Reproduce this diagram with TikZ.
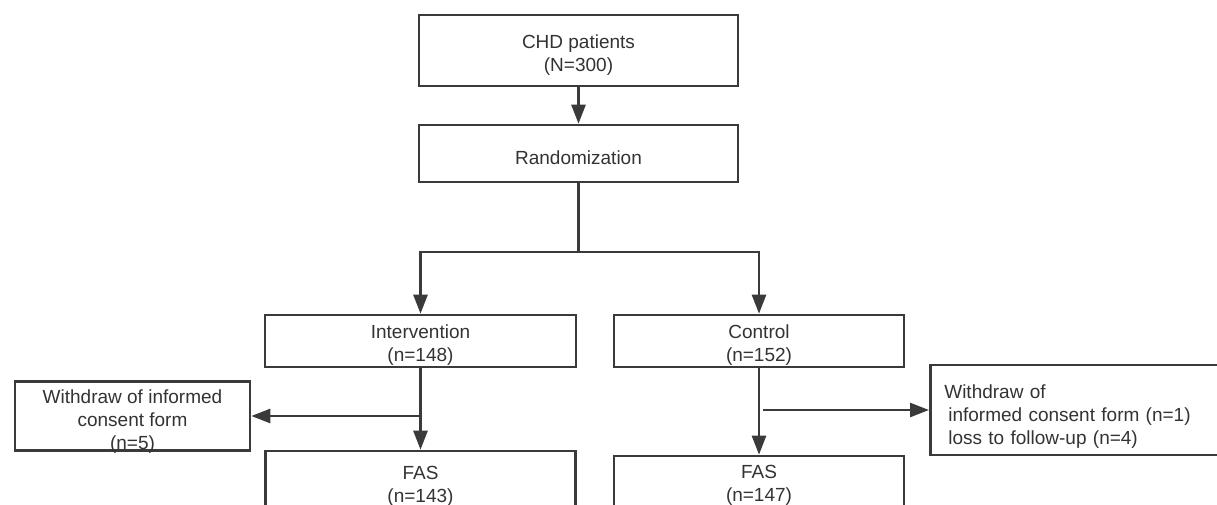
\documentclass[tikz,border=0pt]{standalone}
\usepackage{fontspec}
\setmainfont{Liberation Sans}
\usetikzlibrary{arrows.meta,calc}
\definecolor{linecol}{HTML}{3A3A3A}
\definecolor{textcol}{HTML}{333333}
\newcommand{\lowc}[2][4.5pt]{\raisebox{-#1}[\height][\depth]{\begin{tabular}{@{}c@{}}#2\end{tabular}}}
\newcommand{\lowl}[2][4.5pt]{\raisebox{-#1}[\height][\depth]{\begin{tabular}{@{}l@{}}#2\end{tabular}}}
\begin{document}
\begin{tikzpicture}[x=1pt,y=-1pt,
  box/.style={draw=linecol, line width=2.6pt, inner sep=0pt, fill=white,
    font=\fontsize{19}{23}\selectfont, text=textcol},
  conn/.style={draw=linecol, line width=2.6pt},
  arr/.style={conn, -{Triangle[length=19pt,width=14pt]}}
]
\clip (0,0) rectangle (1217,505);
\node[box, minimum width=319pt, minimum height=71pt] (chd) at (578.5,50.5) {\lowc{CHD patients\\(N=300)}};
\node[box, minimum width=319pt, minimum height=57pt] (rand) at (578.5,153.5) {\lowc[6pt]{Randomization}};
\node[box, minimum width=311pt, minimum height=52pt] (interv) at (420.5,341) {\lowc{Intervention\\(n=148)}};
\node[box, minimum width=290pt, minimum height=52pt] (ctrl) at (759,341) {\lowc{Control\\(n=152)}};
\node[box, minimum width=235pt, minimum height=66pt] (lw) at (132.5,416) {\lowc[5.5pt]{Withdraw of informed\\consent form\\(n=5)}};
\node[box, minimum width=310pt, minimum height=66pt] (fasl) at (420.5,484) {\lowc[2.5pt]{FAS\\(n=143)}};
\node[box, minimum width=290pt, minimum height=54pt] (fasr) at (759,483) {\lowc[2.5pt]{FAS\\(n=147)}};
\node[box, anchor=west, text width=285pt, inner xsep=14pt, minimum height=90pt] (rw) at (929,410)
  {\lowl[6.5pt]{Withdraw of\\\hspace{4pt}informed consent form (n=1)\\\hspace{4pt}loss to follow-up (n=4)}};
\coordinate (split) at (578.5,252);
\draw[arr] (chd) -- (rand);
\draw[conn] (rand.south) -- (split);
\draw[arr] (split) -| (interv.north);
\draw[arr] (split) -| (ctrl.north);
\draw[arr] (interv.south) -- (interv.south |- fasl.north);
\coordinate (lb) at (interv.south |- lw.east);
\draw[arr] (lb) -- (lw.east);
\draw[arr] (ctrl.south) -- (ctrl.south |- fasr.north);
\coordinate (rb) at ($(ctrl.south |- rw.west)+(4,0)$);
\draw[arr] (rb) -- (rw.west);
\end{tikzpicture}
\end{document}
